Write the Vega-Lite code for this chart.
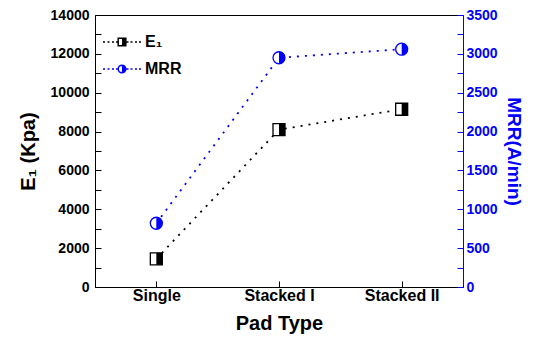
{
  "$schema": "https://vega.github.io/schema/vega-lite/v6.json",
  "width": 368,
  "height": 272,
  "autosize": {"type": "none"},
  "padding": {"left": 95, "top": 15, "right": 70, "bottom": 63},
  "config": {
    "font": "Liberation Sans",
    "view": {"stroke": "black", "strokeWidth": 1},
    "axis": {
      "grid": false,
      "labelFontWeight": "bold",
      "titleFontWeight": "bold",
      "labelColor": "black",
      "titleColor": "black",
      "domainColor": "black",
      "tickColor": "black",
      "labelFontSize": 14,
      "titleFontSize": 20
    }
  },
  "data": {
    "values": [
      {"pad": "Single", "E1": 1450, "MRR": 820},
      {"pad": "Stacked I", "E1": 8100, "MRR": 2950},
      {"pad": "Stacked II", "E1": 9150, "MRR": 3060}
    ]
  },
  "encoding": {
    "x": {
      "field": "pad",
      "type": "ordinal",
      "sort": null,
      "scale": {"type": "point", "padding": 0.5},
      "axis": {
        "title": "Pad Type",
        "labelAngle": 0,
        "labelFontSize": 16,
        "labelPadding": 6,
        "titlePadding": 10,
        "tickSize": -6
      }
    }
  },
  "layer": [
    {
      "encoding": {
        "y": {
          "field": "E1",
          "type": "quantitative",
          "scale": {"domain": [0, 14000], "nice": false},
          "axis": {
            "title": "E₁ (Kpa)",
            "orient": "left",
            "values": [0, 1000, 2000, 3000, 4000, 5000, 6000, 7000, 8000, 9000, 10000, 11000, 12000, 13000, 14000],
            "format": "d",
            "labelExpr": "datum.value % 2000 === 0 ? datum.label : ''",
            "tickSize": -6,
            "labelPadding": 12,
            "titlePadding": 12
          }
        }
      },
      "layer": [
        {
          "mark": {"type": "line", "strokeDash": [2, 6], "strokeWidth": 1.8},
          "encoding": {
            "color": {
              "datum": "E₁",
              "type": "nominal",
              "scale": {"domain": ["E₁", "MRR"], "range": ["black", "#0000ff"]},
              "legend": {
                "title": null,
                "orient": "top-left",
                "offset": 16,
                "padding": 0,
                "symbolSize": 400,
                "labelFontSize": 16,
                "labelFontWeight": "bold",
                "labelOffset": 12,
                "rowPadding": 8,
                "symbolStrokeWidth": 1.5,
                "symbolDash": [],
                "encode": {
                  "symbols": {
                    "update": {
                      "shape": {"signal": "datum.value === 'MRR' ? 'M-1.9,0h0.2M-1.45,0h0.2M-1,0h0.2M-0.6,0h0.2M0.45,0h0.2M0.85,0h0.2M1.3,0h0.2M1.7,0h0.2M-0.38,0A0.38,0.38,0,1,1,0.38,0A0.38,0.38,0,1,1,-0.38,0ZM0.07,-0.37V0.37M0.17,-0.34V0.34M0.27,-0.27V0.27' : 'M-1.9,0h0.2M-1.45,0h0.2M-1,0h0.2M-0.6,0h0.2M0.45,0h0.2M0.85,0h0.2M1.3,0h0.2M1.7,0h0.2M-0.38,-0.38H0.38V0.38H-0.38ZM0.08,-0.38V0.38M0.18,-0.38V0.38M0.29,-0.38V0.38'"},
                      "fill": {"value": "transparent"},
                      "strokeDash": {"value": []}
                    }
                  }
                }
              }
            }
          }
        },
        {
          "mark": {"type": "point", "shape": "M-1,-1H1V1H-1Z", "filled": true, "fill": "white", "stroke": "black", "strokeWidth": 1.3, "size": 144, "opacity": 1}
        },
        {
          "mark": {"type": "point", "shape": "M0,-1H1V1H0Z", "filled": true, "color": "black", "size": 144, "opacity": 1}
        }
      ]
    },
    {
      "encoding": {
        "y": {
          "field": "MRR",
          "type": "quantitative",
          "scale": {"domain": [0, 3500], "nice": false},
          "axis": {
            "title": "MRR(A/min)",
            "orient": "right",
            "titleAngle": 90,
            "titleFontSize": 19,
            "titleColor": "#0000ff",
            "labelColor": "#0000ff",
            "domainColor": "#0000ff",
            "tickColor": "#0000ff",
            "values": [0, 250, 500, 750, 1000, 1250, 1500, 1750, 2000, 2250, 2500, 2750, 3000, 3250, 3500],
            "format": "d",
            "labelExpr": "datum.value % 500 === 0 ? datum.label : ''",
            "tickSize": -6,
            "labelPadding": 9,
            "titlePadding": 6
          }
        }
      },
      "layer": [
        {
          "mark": {"type": "line", "strokeDash": [2, 6], "strokeWidth": 1.8},
          "encoding": {"color": {"datum": "MRR", "type": "nominal"}}
        },
        {
          "mark": {"type": "point", "shape": "M-1,0A1,1,0,1,1,1,0A1,1,0,1,1,-1,0Z", "filled": true, "fill": "white", "stroke": "#0000ff", "strokeWidth": 1.3, "size": 144, "opacity": 1}
        },
        {
          "mark": {"type": "point", "shape": "M0,-1A1,1,0,0,1,0,1Z", "filled": true, "color": "#0000ff", "size": 144, "opacity": 1}
        }
      ]
    }
  ],
  "resolve": {"scale": {"y": "independent"}}
}
